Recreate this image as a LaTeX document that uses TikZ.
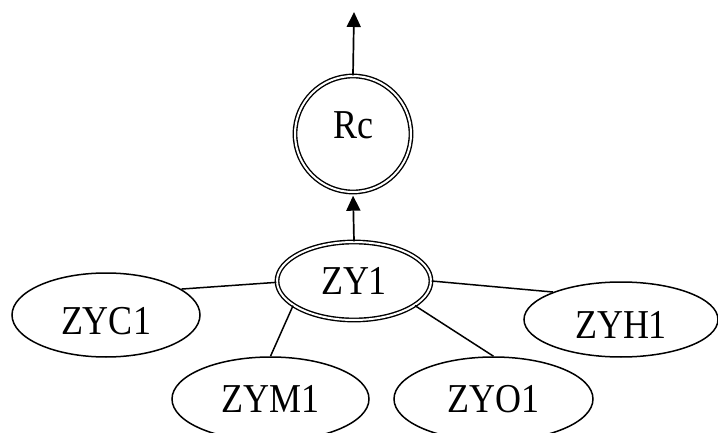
\documentclass[tikz,border=0pt]{standalone}
\usepackage{fontspec}
\setmainfont{Liberation Serif}
\usetikzlibrary{shapes.geometric,arrows.meta}
% labels are set slightly taller than wide
\newcommand{\tall}[1]{\scalebox{1}[1.14]{#1}}
\begin{document}
\begin{tikzpicture}[x=1pt,y=1pt,
  every node/.style={font=\fontsize{36}{40}\selectfont, inner sep=0pt},
  leaf/.style={ellipse, draw, line width=1.5pt},
  dbl/.style={draw, line width=1.4pt, double, double distance=2pt},
  link/.style={line width=1.5pt},
  up/.style={line width=1.7pt, -{Triangle[length=15pt,width=14pt]}}]
\useasboundingbox (0,0) rectangle (718,432);
% central result node and its parent aggregate
\node[dbl, circle, minimum size=116pt, text height=27pt, text depth=17pt] (rc) at (353,298) {\tall{Rc}};
\node[dbl, ellipse, minimum width=154pt, minimum height=78pt] (zy) at (354,151) {\tall{ZY1}};
% component nodes
\node[leaf, minimum width=188pt, minimum height=84pt, text height=40pt] (zyc) at (106,117) {\tall{ZYC1}};
\node[leaf, minimum width=194pt, minimum height=75pt, text height=38pt] (zyh) at (621,112.5) {\tall{ZYH1}};
\node[leaf, minimum width=197pt, minimum height=84pt] (zym) at (270.5,33) {\tall{ZYM1}};
\node[leaf, minimum width=199pt, minimum height=84pt] (zyo) at (493.5,33) {\tall{ZYO1}};
\coordinate (out) at (354,420);
% connectors
\draw[up] (rc.north) -- (out);
\draw[up, shorten >=3pt] (zy.north) -- (rc.south);
\draw[link] (zy.181) -- (zyc.19);
\draw[link] (zy.0) -- (zyh.158);
\draw[link] (zy.202) -- (zym.north);
\draw[link] (zy.338) -- (zyo.north);
\end{tikzpicture}
\end{document}
